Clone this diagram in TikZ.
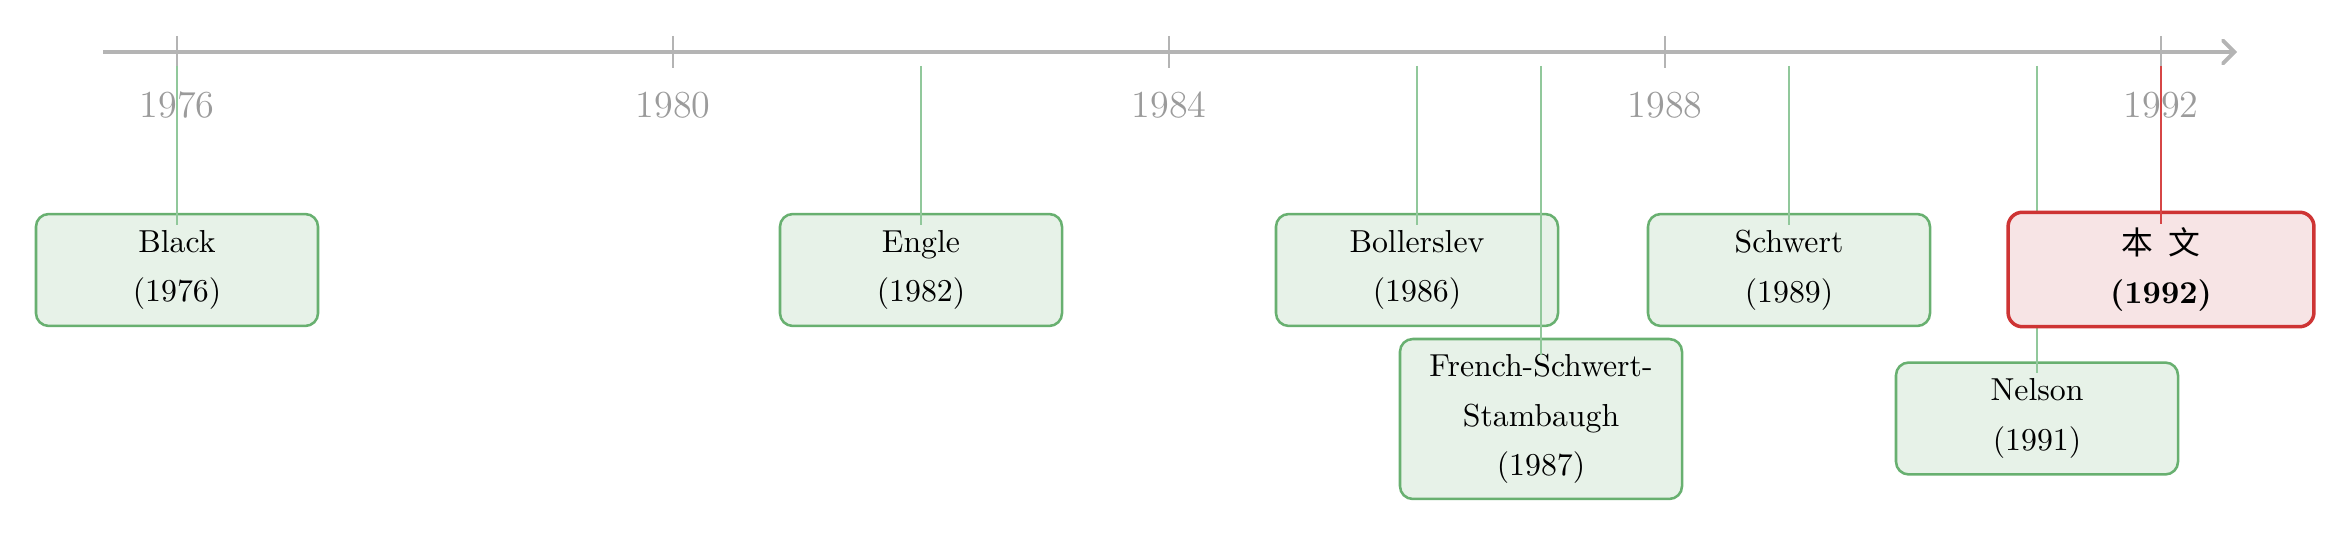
\documentclass[tikz,border=0pt]{standalone}
\usepackage{fontspec}
\newfontfamily\cjk{Noto Sans CJK SC}
\usetikzlibrary{arrows.meta,calc}
\definecolor{axisgray}{RGB}{180,180,180}
\definecolor{yeargray}{RGB}{155,155,155}
\definecolor{evborder}{RGB}{104,176,112}
\definecolor{evfill}{RGB}{231,242,232}
\definecolor{evline}{RGB}{145,200,155}
\definecolor{hiborder}{RGB}{206,52,52}
\definecolor{hifill}{RGB}{247,228,229}
\definecolor{hiline}{RGB}{214,70,70}
\tikzset{
  evbox/.style={draw=evborder, fill=evfill, line width=0.8pt, rounded corners=4pt,
    minimum width=88.7pt, minimum height=35.2pt, align=center, inner sep=2pt,
    font=\linespread{1.3}\selectfont},
  hibox/.style={draw=hiborder, fill=hifill, line width=1.1pt, rounded corners=4.5pt,
    minimum width=96.2pt, minimum height=36pt, align=center, inner sep=2pt,
    font=\linespread{1.3}\selectfont},
  evconn/.style={draw=evline, line width=0.55pt},
  hiconn/.style={draw=hiline, line width=0.55pt},
  axisline/.style={draw=axisgray, line width=1.2pt},
  tickline/.style={draw=axisgray, line width=0.5pt},
  yearlabel/.style={text=yeargray, font=\large, anchor=base, inner sep=0pt}
}
\begin{document}
\begin{tikzpicture}[x=0.3145pt, y=-0.3145pt]
\useasboundingbox (0,0) rectangle (2352,537);
% axis
\coordinate (axs) at (103,52);
\coordinate (axe) at (2237,52);
\draw[axisline, -{Straight Barb[length=3.6pt,width=7.2pt,line cap=round]}] (axs) -- (axe);
% ticks and year labels
\foreach \yr/\xx in {1976/177,1980/673,1984/1169,1988/1665,1992/2161}{
  \coordinate (tt\yr) at (\xx,36);
  \coordinate (tb\yr) at (\xx,68);
  \draw[tickline] (tt\yr) -- (tb\yr);
  \node[yearlabel] (yl\yr) at (\xx,118) {\yr};
}
% connector anchors on the axis
\coordinate (c76) at (177,66);
\coordinate (c82) at (921,66);
\coordinate (c86) at (1417,66);
\coordinate (c87) at (1541,66);
\coordinate (c89) at (1789,66);
\coordinate (c91) at (2037,66);
\coordinate (c92) at (2161,66);
% events
\node[evbox] (black) at (177,270) {Black\\(1976)};
\draw[evconn] (c76) -- ([yshift=-3.8pt]black.north);
\node[evbox] (engle) at (921,270) {Engle\\(1982)};
\draw[evconn] (c82) -- ([yshift=-3.8pt]engle.north);
\node[evbox] (boll) at (1417,270) {Bollerslev\\(1986)};
\draw[evconn] (c86) -- ([yshift=-3.8pt]boll.north);
\node[evbox, minimum height=50.3pt] (fss) at (1541,419) {French-Schwert-\\Stambaugh\\(1987)};
\draw[evconn] (c87) -- ([yshift=-5.5pt]fss.north);
\node[evbox] (schw) at (1789,270) {Schwert\\(1989)};
\draw[evconn] (c89) -- ([yshift=-3.8pt]schw.north);
\node[evbox] (nels) at (2037,418.5) {Nelson\\(1991)};
\draw[evconn] (c91) -- ([yshift=-3.8pt]nels.north);
\node[hibox] (this) at (2161,269.5) {{\cjk 本\hspace{0.5em}文}\\\textbf{(1992)}};
\draw[hiconn] (c92) -- ([yshift=-4.2pt]this.north);
\end{tikzpicture}
\end{document}
